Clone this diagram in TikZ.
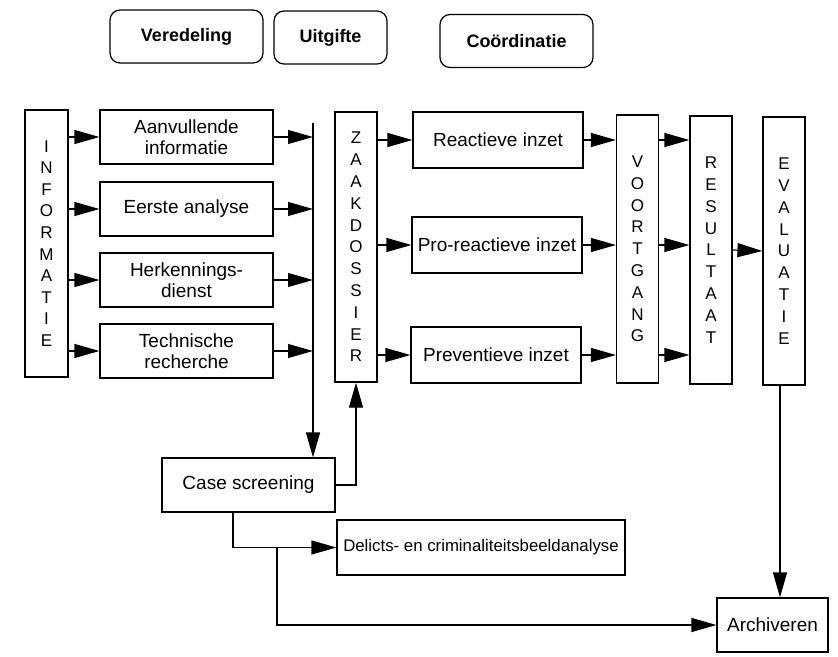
\documentclass[tikz,border=0pt]{standalone}
\usepackage{fontspec}
\setmainfont{Liberation Sans}
\usetikzlibrary{arrows.meta}
\begin{document}
\begin{tikzpicture}[x=1pt,y=-1pt,
  every node/.style={font=\fontsize{19}{21}\selectfont, align=center, inner sep=0pt},
  box/.style={draw, line width=1.2pt, rectangle},
  hbox/.style={box, minimum width=173pt, minimum height=54pt},
  ibox/.style={box, minimum width=170pt, minimum height=56pt},
  vbox/.style={box, minimum width=42pt, minimum height=268pt,
    font=\fontsize{17}{21.8}\selectfont},
  hdr/.style={draw, line width=1.2pt, rounded corners=10pt, minimum height=53pt,
    font=\fontsize{18}{21}\selectfont\bfseries},
  arr/.style={line width=1.2pt, -{Triangle[length=25pt 0,width=14pt 0]}},
  ln/.style={line width=1.2pt}]
\useasboundingbox (0,0) rectangle (838,656);

% headings
\node[hdr, minimum width=153pt] (ver) at (186.5,36.5) {Veredeling};
\node[hdr, minimum width=113pt] (uit) at (330.5,37.5) {Uitgifte};
\node[hdr, minimum width=153pt] (coo) at (516.5,41) {Coördinatie};

% input column
\node[box, minimum width=43pt, minimum height=267pt, font=\fontsize{17}{21.6}\selectfont]
  (info) at (46.5,243.5) {I\\N\\F\\O\\R\\M\\A\\T\\I\\E};
\node[hbox] (aanv) at (186.5,137) {Aanvullende\\informatie};
\node[hbox] (eers) at (186.5,209) {Eerste analyse};
\node[hbox] (herk) at (186.5,280) {Herkennings-\\dienst};
\node[hbox] (tech) at (186.5,351) {Technische\\recherche};

% case file and actions
\node[vbox, minimum height=270pt] (zaak) at (356,247) {Z\\A\\A\\K\\D\\O\\S\\S\\I\\E\\R};
\node[ibox] (reac) at (498,140) {Reactieve inzet};
\node[ibox] (pro)  at (497,245) {Pro-reactieve inzet};
\node[ibox] (prev) at (496,355) {Preventieve inzet};

\node[vbox] (voort) at (637.5,249) {V\\O\\O\\R\\T\\G\\A\\N\\G};
\node[vbox] (res)   at (711,250) {R\\E\\S\\U\\L\\T\\A\\A\\T};
\node[vbox] (eval)  at (784,251) {E\\V\\A\\L\\U\\A\\T\\I\\E};

% lower row
\node[box, minimum width=173pt, minimum height=54pt] (case) at (248.5,485) {Case screening};
\node[box, minimum width=288pt, minimum height=55pt,
  font=\fontsize{16.8}{20}\selectfont] (del) at (481,547.5) {Delicts- en criminaliteitsbeeldanalyse};
\node[box, minimum width=111pt, minimum height=54pt] (arch) at (772.5,625) {Archiveren};

% collector line and branch points
\coordinate (coltop) at (313,123);
\coordinate (split) at (233,512);
\coordinate (fork) at (277,548);

% connectors
\foreach \b in {aanv,eers,herk,tech} {
  \draw[arr] (info.east |- \b) -- (\b.west);
  \draw[arr] (\b.east) -- (\b.east -| coltop);
}
\draw[arr] (coltop) -- (coltop |- case.north);
\draw[arr] (case.east) -| (zaak.south);

\foreach \b in {reac,pro,prev} {
  \draw[arr] (zaak.east |- \b) -- (\b.west);
  \draw[arr] (\b.east) -- (\b.east -| voort.west);
  \draw[arr] (voort.east |- \b) -- (res.west |- \b);
}
\draw[arr] (res.east) -- (eval.west);
\draw[arr] ([xshift=-4pt]eval.south) -- ([xshift=-4pt]eval.south |- arch.north);

\draw[arr] (split) |- (del.west);
\draw[arr] (fork) |- (arch.west);
\end{tikzpicture}
\end{document}
